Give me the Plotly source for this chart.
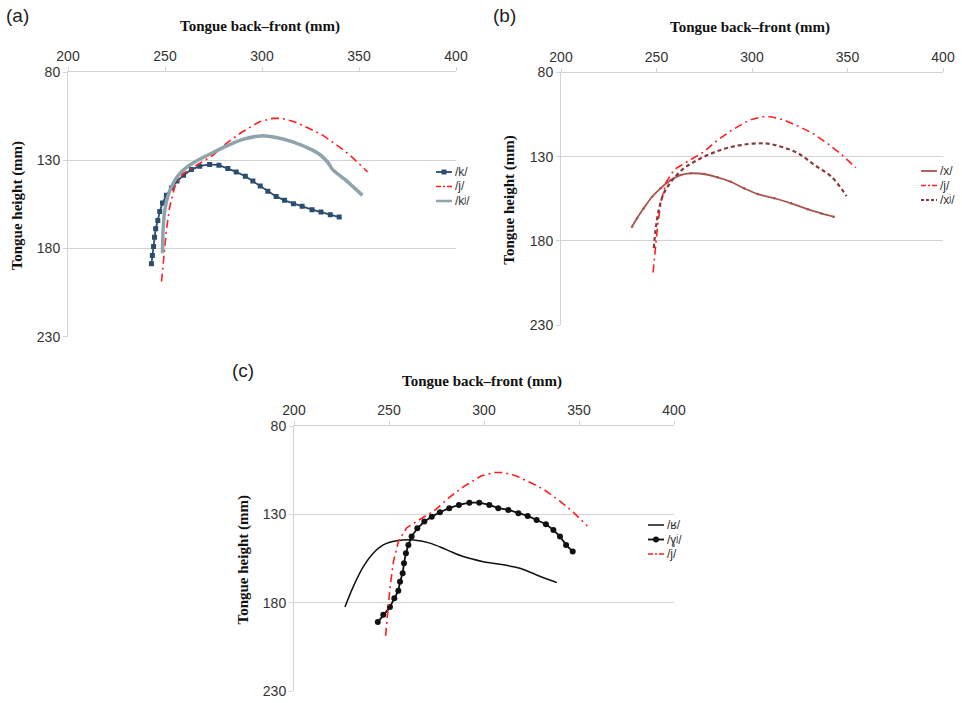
import plotly.graph_objects as go

# ---------------- data ----------------
# shared /j/ reference contour (same in all three panels)
j_x = [248.2, 249.0, 250.7, 252.4, 255.0, 259.3, 266.2, 274.7, 281.6, 289.3, 298.7, 305.6,
       309.9, 316.7, 324.4, 331.3, 339.8, 346.7, 354.4]
j_y = [198.8, 188.7, 169.8, 156.5, 145.2, 137.6, 132.8, 127.2, 120.5, 114.3, 108.2, 106.3,
       106.3, 108.2, 112.0, 115.8, 122.4, 128.5, 136.6]

# panel (a)
k_x = [243.0, 243.5, 244.1, 244.6, 245.2, 246.3, 247.3, 248.7, 250.7, 253.3, 256.2, 259.6,
       263.6, 267.9, 273.0, 277.8, 282.4, 286.7, 291.4, 295.3, 299.1, 303.0, 307.3, 311.6,
       316.2, 320.7, 325.8, 330.4, 335.2, 339.8]
k_y = [188.7, 184.0, 178.9, 173.6, 168.8, 164.1, 159.0, 154.3, 149.9, 145.7, 141.8, 138.5,
       135.3, 133.4, 132.4, 132.8, 134.7, 136.6, 139.1, 141.8, 144.6, 147.6, 150.5, 152.7,
       154.6, 156.1, 158.0, 159.4, 160.9, 162.2]
kj_x = [248.7, 249.0, 249.9, 251.6, 255.0, 259.3, 265.3, 273.0, 281.6, 290.1, 299.6, 307.3,
        315.8, 324.4, 329.6, 333.8, 336.4, 343.3, 351.8]
kj_y = [182.7, 169.8, 158.4, 149.9, 141.4, 135.7, 131.0, 126.6, 122.0, 118.2, 116.2, 117.1,
        119.6, 123.4, 126.6, 131.0, 135.3, 141.4, 149.9]

# panel (b)
x_x = [237.2, 239.8, 243.3, 247.7, 252.1, 257.4, 262.6, 267.9, 274.9, 281.9, 288.9, 295.9,
       303.0, 311.7, 320.5, 329.3, 336.3, 342.8]
x_y = [171.6, 166.6, 160.7, 153.8, 148.8, 143.9, 140.9, 139.9, 140.3, 142.3, 144.9, 148.8,
       152.2, 154.7, 157.7, 161.3, 163.7, 165.7]
xj_x = [248.6, 249.5, 251.2, 253.8, 258.3, 264.4, 273.2, 283.7, 294.2, 306.5, 315.3, 324.1,
        332.8, 341.6, 349.5]
xj_y = [184.3, 173.6, 161.7, 151.8, 143.9, 136.9, 131.0, 126.0, 123.1, 122.1, 124.1, 128.0,
        135.0, 141.9, 153.4]

# panel (c)
r_x = [226.8, 231.2, 236.5, 241.7, 247.0, 254.1, 262.8, 271.6, 280.4, 289.1, 299.6, 310.2,
       318.9, 327.7, 338.3]
r_y = [182.5, 170.9, 159.6, 152.0, 147.3, 145.0, 144.5, 146.3, 150.1, 153.9, 156.8, 158.6,
       160.5, 164.3, 168.6]
gj_x = [244.1, 247.0, 250.5, 252.8, 254.9, 255.8, 257.2, 257.9, 258.9, 260.2, 261.9, 264.9,
        268.6, 272.5, 276.8, 281.7, 286.8, 292.3, 297.5, 302.8, 307.5, 312.8, 318.1, 323.0,
        327.7, 332.6, 336.5, 340.0, 343.2, 346.7]
gj_y = [191.0, 186.9, 182.5, 177.5, 173.3, 168.1, 163.3, 157.7, 152.0, 147.3, 142.6, 137.9,
        134.1, 131.3, 128.8, 126.5, 124.7, 123.4, 123.4, 124.7, 126.5, 127.5, 129.4, 130.9,
        133.2, 135.6, 138.8, 142.6, 147.3, 151.1]

x_ticks = [200, 250, 300, 350, 400]
y_ticks = [80, 130, 180, 230]
x_title = "Tongue back\u2013front (mm)"
y_title = "Tongue height (mm)"
panel_labels = ["(a)", "(b)", "(c)"]

# ---------------- styles ----------------
W, H = 962, 703
RED = "#FF1F1F"
JDASH = "8px,4px,2px,4px"
S_J = dict(line=dict(color=RED, width=1.6, dash=JDASH))
S_K = dict(line=dict(color="#2C4D6E", width=1.8), marker=dict(symbol="square", size=5, color="#2C4D6E"))
S_KJ = dict(line=dict(color="#8FA3AD", width=3.5, shape="spline", smoothing=0.6))
S_X = dict(line=dict(color="#A8554F", width=1.8, shape="spline"),
           marker=dict(symbol="circle", size=2.5, color="#A8554F"))
S_XJ = dict(line=dict(color="#8A3A3C", width=2.2, dash="4px,3px", shape="spline"))
S_R = dict(line=dict(color="#111111", width=1.5, shape="spline"))
S_GJ = dict(line=dict(color="#111111", width=1.8), marker=dict(symbol="circle", size=6, color="#111111"))

fig = go.Figure()

series = [
    ("", "/k/", k_x, k_y, S_K),
    ("", "/j/", j_x, j_y, S_J),
    ("", "/k\u02b2/", kj_x, kj_y, S_KJ),
    ("2", "/x/", x_x, x_y, S_X),
    ("2", "/j/", j_x, j_y, S_J),
    ("2", "/x\u02b2/", xj_x, xj_y, S_XJ),
    ("3", "/\u0281/", r_x, r_y, S_R),
    ("3", "/\u0263\u02b2/", gj_x, gj_y, S_GJ),
    ("3", "/j/", j_x, j_y, S_J),
]
for ax, name, xs, ys, st in series:
    fig.add_trace(go.Scatter(x=xs, y=ys, name=name, xaxis="x" + ax, yaxis="y" + ax,
                             mode="lines+markers" if "marker" in st else "lines",
                             showlegend=False, **st))

def px_x(p):
    return p / W

def px_y(p):
    return 1 - p / H

GRID = "#D4D4D4"
TICKFONT = dict(family="Liberation Sans, Arial, sans-serif", size=14, color="#333333")

def xaxis(dom, anchor):
    return dict(domain=dom, anchor=anchor, side="top", range=[200, 400], tickvals=x_ticks,
                showgrid=False, zeroline=False, showline=True, linecolor=GRID, linewidth=1,
                ticks="outside", ticklen=4, tickcolor=GRID, tickfont=TICKFONT, automargin=False)

def yaxis(dom, anchor):
    return dict(domain=dom, anchor=anchor, range=[230, 80], tickvals=y_ticks,
                showgrid=True, gridcolor=GRID, gridwidth=1, zeroline=False, showline=True,
                linecolor=GRID, linewidth=1, ticks="outside", ticklen=4, tickcolor=GRID,
                tickfont=TICKFONT, automargin=False)

# panel geometry in pixels
A = dict(x0=68, x1=456, y0=72, y1=336.7)
B = dict(x0=561, x1=943, y0=72.5, y1=325)
C = dict(x0=294, x1=674, y0=426, y1=691)

def doms(g):
    return [px_x(g["x0"]), px_x(g["x1"])], [px_y(g["y1"]), px_y(g["y0"])]

ax_d, ay_d = doms(A)
bx_d, by_d = doms(B)
cx_d, cy_d = doms(C)

fig.update_layout(
    width=W, height=H, margin=dict(l=0, r=0, t=0, b=0, autoexpand=False),
    paper_bgcolor="white", plot_bgcolor="white", showlegend=False,
    xaxis=xaxis(ax_d, "y"), yaxis=yaxis(ay_d, "x"),
    xaxis2=xaxis(bx_d, "y2"), yaxis2=yaxis(by_d, "x2"),
    xaxis3=xaxis(cx_d, "y3"), yaxis3=yaxis(cy_d, "x3"),
)

TITLEFONT = dict(family="Liberation Serif, Times New Roman, serif", size=15, color="#111111")
LEGFONT = dict(family="Liberation Sans, Arial, sans-serif", size=12, color="#333333")
ann = []
shapes = []
for g, lbl, lx, ly in [(A, panel_labels[0], 4, 16), (B, panel_labels[1], 491, 16), (C, panel_labels[2], 230, 370)]:
    ann.append(dict(text=lbl, x=px_x(lx), y=px_y(ly), xref="paper", yref="paper", showarrow=False,
                    xanchor="left", yanchor="middle",
                    font=dict(family="Liberation Sans, Arial, sans-serif", size=19, color="#222222")))
    ann.append(dict(text="<b>" + x_title + "</b>", x=px_x((g["x0"] + g["x1"]) / 2 - 2),
                    y=px_y(g["y0"] - 45), xref="paper", yref="paper", showarrow=False,
                    xanchor="center", yanchor="middle", font=TITLEFONT))
    ann.append(dict(text="<b>" + y_title + "</b>", x=px_x(g["x0"] - 51),
                    y=px_y(g["y0"] + 0.5 * (g["y1"] - g["y0"]) + 2), xref="paper", yref="paper",
                    showarrow=False, textangle=-90, xanchor="center", yanchor="middle",
                    font=TITLEFONT))

# hand-drawn legends (compact, as in the reference)
legend_pos = {"": (436, 172), "2": (921, 171), "3": (648, 525)}
row_gap = 14.5
rows_done = {"": 0, "2": 0, "3": 0}
for ax, name, xs, ys, st in series:
    lx0, ly0 = legend_pos[ax]
    i = rows_done[ax]
    rows_done[ax] += 1
    yy = ly0 + i * row_gap
    ln = st["line"]
    lw = min(ln["width"], 2.5)
    shapes.append(dict(type="line", xref="paper", yref="paper",
                       x0=px_x(lx0), x1=px_x(lx0 + 16), y0=px_y(yy), y1=px_y(yy),
                       line=dict(color=ln["color"], width=lw,
                                 dash="5px,2px,2px,2px" if ln.get("dash") == JDASH else
                                 ("3px,2px" if ln.get("dash") else "solid"))))
    if "marker" in st and st["marker"]["size"] > 3:
        m = st["marker"]
        r = m["size"] / 2
        shapes.append(dict(type="rect" if m["symbol"] == "square" else "circle",
                           xref="paper", yref="paper",
                           x0=px_x(lx0 + 8 - r), x1=px_x(lx0 + 8 + r),
                           y0=px_y(yy - r), y1=px_y(yy + r),
                           line=dict(width=0), fillcolor=m["color"]))
    ann.append(dict(text=name, x=px_x(lx0 + 17), y=px_y(yy), xref="paper", yref="paper",
                    showarrow=False, xanchor="left", yanchor="middle", font=LEGFONT))

fig.update_layout(annotations=ann, shapes=shapes)

fig.write_html("out.html", config={"displayModeBar": False},
               post_script="document.body.style.margin='0px';")
